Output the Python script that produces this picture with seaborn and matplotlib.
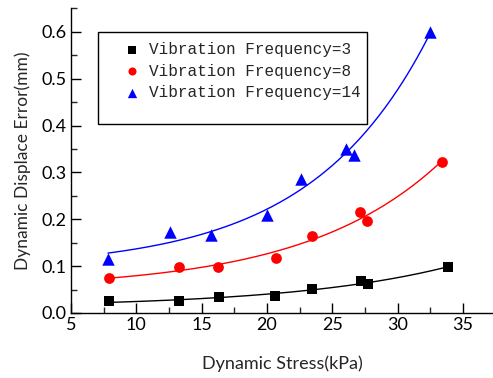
import numpy as np
import pandas as pd
import seaborn as sns
import matplotlib
matplotlib.use("Agg")
import matplotlib.pyplot as plt
from matplotlib.ticker import MultipleLocator
from matplotlib.patches import Rectangle

# Data
x_f3 = [7.93, 13.3, 16.36, 20.65, 23.45, 27.2, 27.74, 33.87]
y_f3 = [0.025, 0.026, 0.034, 0.036, 0.052, 0.068, 0.062, 0.098]
x_f8 = [7.91, 13.24, 16.28, 20.67, 23.43, 27.1, 27.66, 33.36]
y_f8 = [0.074, 0.098, 0.099, 0.117, 0.165, 0.215, 0.197, 0.323]
x_f14 = [7.83, 12.58, 15.72, 20.03, 22.6, 26.08, 26.67, 32.49]
y_f14 = [0.115, 0.172, 0.167, 0.209, 0.286, 0.351, 0.337, 0.600]
labels = ["Vibration Frequency=3", "Vibration Frequency=8", "Vibration Frequency=14"]
colors = ["black", "red", "blue"]
markers = ["s", "o", "^"]
sizes = [60, 60, 80]

xs = [x_f3, x_f8, x_f14]
ys = [y_f3, y_f8, y_f14]

sns.set_theme(style="ticks")
plt.rcParams['font.family'] = ['Lato', 'DejaVu Sans']

fig = plt.figure(figsize=(4.93, 3.78), dpi=100)
ax = fig.add_axes([0.144, 0.172, 0.856, 0.807])


def exp_fit(x, y):
    # fit y = y0 + A*exp(x/t) by scanning t and solving linear least squares
    x = np.asarray(x); y = np.asarray(y)
    best = None
    for t in np.linspace(2, 60, 2000):
        M = np.column_stack([np.ones_like(x), np.exp(x / t)])
        coef, res, *_ = np.linalg.lstsq(M, y, rcond=None)
        err = np.sum((M @ coef - y) ** 2)
        if best is None or err < best[0]:
            best = (err, t, coef)
    _, t, coef = best
    xx = np.linspace(x.min(), x.max(), 200)
    return xx, coef[0] + coef[1] * np.exp(xx / t)


for x, y, c, m, s, lab in zip(xs, ys, colors, markers, sizes, labels):
    df = pd.DataFrame({"x": x, "y": y})
    sns.scatterplot(data=df, x="x", y="y", ax=ax, color=c, marker=m, s=s,
                    edgecolor=c, linewidth=0, label=lab, zorder=3)
    xx, yy = exp_fit(x, y)
    sns.lineplot(x=xx, y=yy, ax=ax, color=c, linewidth=1.0, zorder=2)

ax.set_xlim(5, 37.3)
ax.set_ylim(0, 0.651)
ax.xaxis.set_major_locator(MultipleLocator(5))
ax.xaxis.set_minor_locator(MultipleLocator(2.5))
ax.yaxis.set_major_locator(MultipleLocator(0.1))
ax.yaxis.set_minor_locator(MultipleLocator(0.05))
ax.yaxis.set_major_formatter(matplotlib.ticker.FormatStrFormatter('%.1f'))
ax.tick_params(which='major', direction='in', length=7, width=1.0, labelsize=13, colors='black', pad=3)
ax.tick_params(which='minor', direction='in', length=4, width=1.0)
for sp in ['top', 'right']:
    ax.spines[sp].set_visible(False)
for sp in ['left', 'bottom']:
    ax.spines[sp].set_color('black')
    ax.spines[sp].set_linewidth(1.0)

ax.set_xlabel("Dynamic Stress(kPa)", fontsize=13, labelpad=16)
ax.set_ylabel("Dynamic Displace Error(mm)", fontsize=12.5, labelpad=8)

leg = ax.legend(loc='upper left', bbox_to_anchor=(0.095, 0.915), frameon=False,
                prop={'family': 'Liberation Mono', 'size': 11.5}, handletextpad=0.3,
                borderpad=0.0, labelspacing=0.42, markerscale=0.75, handlelength=1.6)
ax.add_patch(Rectangle((0.064, 0.620), 0.637, 0.301, transform=ax.transAxes,
                       fill=False, edgecolor='black', linewidth=1.0, zorder=4))

fig.savefig("out.png", dpi=100)
